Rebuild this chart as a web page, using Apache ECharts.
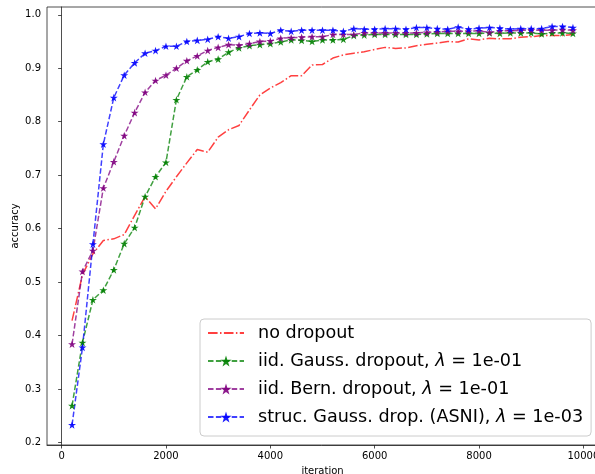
<!DOCTYPE html>
<html lang="en">
<head>
<meta charset="UTF-8">
<title>accuracy vs iteration</title>
<style>
  html, body { margin: 0; padding: 0; background: #fff; }
  #chart { width: 595px; height: 474px; }
</style>
<script src="https://cdn.jsdelivr.net/npm/echarts@6/dist/echarts.min.js"></script>
</head>
<body>
<div id="chart"></div>
<script>
// iteration steps (x)
var iterations = [200, 400, 600, 800, 1000, 1200, 1400, 1600, 1800, 2000,
  2200, 2400, 2600, 2800, 3000, 3200, 3400, 3600, 3800, 4000,
  4200, 4400, 4600, 4800, 5000, 5200, 5400, 5600, 5800, 6000,
  6200, 6400, 6600, 6800, 7000, 7200, 7400, 7600, 7800, 8000,
  8200, 8400, 8600, 8800, 9000, 9200, 9400, 9600, 9800];

var noDropout = [0.428, 0.514, 0.553, 0.578, 0.581, 0.589, 0.625, 0.660, 0.637, 0.670,
  0.697, 0.723, 0.748, 0.743, 0.771, 0.785, 0.793, 0.822, 0.850, 0.863,
  0.873, 0.886, 0.886, 0.906, 0.907, 0.919, 0.925, 0.928, 0.931, 0.935,
  0.939, 0.937, 0.938, 0.942, 0.945, 0.947, 0.950, 0.949, 0.955, 0.953,
  0.956, 0.955, 0.955, 0.958, 0.959, 0.961, 0.961, 0.961, 0.963];

var iidGauss = [0.269, 0.387, 0.467, 0.485, 0.523, 0.572, 0.602, 0.660, 0.697, 0.724,
  0.841, 0.884, 0.897, 0.912, 0.917, 0.930, 0.938, 0.942, 0.944, 0.946,
  0.949, 0.953, 0.952, 0.950, 0.953, 0.953, 0.954, 0.961, 0.962, 0.963,
  0.963, 0.963, 0.963, 0.963, 0.964, 0.965, 0.965, 0.965, 0.965, 0.965,
  0.966, 0.965, 0.966, 0.966, 0.966, 0.964, 0.966, 0.966, 0.965];

var iidBern = [0.384, 0.520, 0.559, 0.676, 0.725, 0.774, 0.817, 0.855, 0.877, 0.887,
  0.900, 0.914, 0.923, 0.933, 0.939, 0.944, 0.943, 0.946, 0.950, 0.951,
  0.956, 0.957, 0.958, 0.959, 0.959, 0.963, 0.963, 0.963, 0.966, 0.966,
  0.966, 0.966, 0.966, 0.966, 0.967, 0.968, 0.969, 0.969, 0.969, 0.970,
  0.967, 0.970, 0.970, 0.971, 0.971, 0.971, 0.971, 0.972, 0.971];

var strucGauss = [0.233, 0.378, 0.571, 0.758, 0.845, 0.887, 0.910, 0.928, 0.933, 0.941,
  0.941, 0.950, 0.952, 0.954, 0.959, 0.956, 0.959, 0.965, 0.966, 0.965,
  0.971, 0.969, 0.971, 0.971, 0.971, 0.971, 0.969, 0.974, 0.973, 0.973,
  0.974, 0.974, 0.973, 0.976, 0.976, 0.974, 0.973, 0.977, 0.973, 0.975,
  0.976, 0.975, 0.973, 0.974, 0.974, 0.974, 0.978, 0.978, 0.976];

var seriesNames = [
  'no dropout',
  'iid. Gauss. dropout, λ = 1e-01',
  'iid. Bern. dropout, λ = 1e-01',
  'struc. Gauss. drop. (ASNI), λ = 1e-03'
];

var xTicks = [0, 2000, 4000, 6000, 8000, 10000];
var yTicks = [0.2, 0.3, 0.4, 0.5, 0.6, 0.7, 0.8, 0.9, 1.0];

// matplotlib style '*' marker
var star = 'path://M0,-100 L22.45,-30.9 L95.1,-30.9 L36.3,11.8 L58.8,80.9 L0,38.2 L-58.8,80.9 L-36.3,11.8 L-95.1,-30.9 L-22.45,-30.9 Z';

function pairs(ys) {
  return iterations.map(function (x, i) { return [x, ys[i]]; });
}

function starSeries(name, color, ys) {
  return {
    name: name,
    type: 'line',
    data: pairs(ys),
    symbol: star,
    symbolSize: [8, 7.6],
    showSymbol: true,
    itemStyle: { color: color, opacity: 0.9 },
    lineStyle: { color: color, width: 1.5, type: [5.5, 2.4], opacity: 0.75 },
    emphasis: { disabled: true },
    z: 3
  };
}

var tickFont = { fontFamily: 'DejaVu Sans', fontSize: 10, color: '#000' };

var chart = echarts.init(document.getElementById('chart'), null, { renderer: 'canvas' });

chart.setOption({
  animation: false,
  backgroundColor: '#fff',
  grid: {
    left: 47, top: 7, width: 551, height: 438,
    show: true, borderColor: '#222', borderWidth: 0.8,
    containLabel: false, outerBoundsMode: 'none'
  },
  xAxis: {
    type: 'value',
    min: -280, max: 10280,
    name: 'iteration',
    nameLocation: 'middle',
    nameGap: 21,
    nameMoveOverlap: false,
    nameTextStyle: tickFont,
    splitLine: { show: false },
    axisLine: { show: true, lineStyle: { color: '#222', width: 0.8 } },
    axisTick: { show: true, length: 3.5, lineStyle: { color: '#222', width: 0.8 }, customValues: xTicks },
    axisLabel: Object.assign({ margin: 6, customValues: xTicks, formatter: function (v) { return String(v); } }, tickFont)
  },
  yAxis: {
    type: 'value',
    min: 0.1955, max: 1.0145,
    name: 'accuracy',
    nameLocation: 'middle',
    nameRotate: 90,
    nameGap: 27,
    nameMoveOverlap: false,
    nameTextStyle: tickFont,
    splitLine: { show: false },
    axisLine: { show: true, lineStyle: { color: '#222', width: 0.8 } },
    axisTick: { show: true, length: 3.5, lineStyle: { color: '#222', width: 0.8 }, customValues: yTicks },
    axisLabel: Object.assign({ margin: 6, customValues: yTicks, formatter: function (v) { return v.toFixed(1); } }, tickFont)
  },
  legend: {
    orient: 'vertical',
    left: 200, top: 319,
    padding: [4, 8, 9, 7],
    itemGap: 8,
    itemWidth: 36,
    itemHeight: 14,
    backgroundColor: 'rgba(255,255,255,0.8)',
    borderColor: '#cccccc',
    borderWidth: 1,
    borderRadius: 4,
    selectedMode: false,
    data: [
      { name: seriesNames[0], itemStyle: { opacity: 0 } },
      seriesNames[1], seriesNames[2], seriesNames[3]
    ],
    formatter: function (name) { return name.replace('λ', '{i|λ}'); },
    textStyle: {
      fontFamily: 'DejaVu Sans', fontSize: 17.6, color: '#000', lineHeight: 20,
      padding: [0, 0, 0, 9],
      rich: { i: { fontFamily: 'DejaVu Sans', fontStyle: 'italic', fontSize: 17.6, lineHeight: 20 } }
    }
  },
  series: [
    {
      name: seriesNames[0],
      type: 'line',
      data: pairs(noDropout),
      symbol: 'none',
      itemStyle: { color: '#ff0000' },
      lineStyle: { color: '#ff0000', width: 1.5, type: [9.6, 2.4, 1.5, 2.4], opacity: 0.75 },
      emphasis: { disabled: true },
      z: 2
    },
    starSeries(seriesNames[1], '#008000', iidGauss),
    starSeries(seriesNames[2], '#800080', iidBern),
    starSeries(seriesNames[3], '#0000ff', strucGauss)
  ]
});
</script>
</body>
</html>
